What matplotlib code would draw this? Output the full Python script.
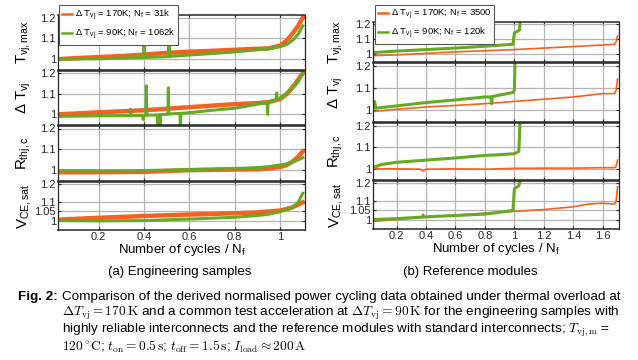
import matplotlib
matplotlib.use('Agg')
import matplotlib.pyplot as plt

plt.rcParams['font.family'] = ['Liberation Sans', 'DejaVu Sans']
plt.rcParams['mathtext.fontset'] = 'custom'
plt.rcParams['mathtext.rm'] = 'Liberation Sans'
plt.rcParams['mathtext.it'] = 'Liberation Sans:italic'
plt.rcParams['mathtext.bf'] = 'Liberation Sans:bold'

ORANGE = '#f4621f'
GREEN = '#66a925'

# ---- (a) engineering samples, x = cycles / Nf ----
eng_tmax_170_x = [0.02, 0.1, 0.2, 0.3, 0.4, 0.5, 0.6, 0.7, 0.8, 0.9, 0.95, 1.0, 1.03, 1.06, 1.08, 1.1]
eng_tmax_170_y = [1.0, 1.005, 1.01, 1.015, 1.022, 1.03, 1.036, 1.04, 1.045, 1.05, 1.052, 1.065, 1.09, 1.13, 1.16, 1.2]
eng_tmax_90_x = [0.02, 0.2, 0.398, 0.4, 0.402, 0.5, 0.508, 0.51, 0.512, 0.6, 0.7, 0.8, 0.9, 0.95, 1.0, 1.03, 1.06, 1.08, 1.1]
eng_tmax_90_y = [1.0, 1.002, 1.008, 1.085, 1.008, 1.012, 1.012, 1.095, 1.013, 1.02, 1.027, 1.035, 1.045, 1.05, 1.06, 1.07, 1.095, 1.12, 1.16]

eng_dt_170_x = [0.02, 0.2, 0.4, 0.6, 0.8, 0.9, 0.95, 1.0, 1.03, 1.06, 1.08, 1.1]
eng_dt_170_y = [1.0, 1.01, 1.02, 1.035, 1.05, 1.055, 1.06, 1.075, 1.1, 1.14, 1.17, 1.2]
eng_dt_90_x = [0.02, 0.2, 0.338, 0.34, 0.342, 0.394, 0.396, 0.398, 0.408, 0.41, 0.412, 0.458, 0.46, 0.462,
               0.468, 0.47, 0.472, 0.5, 0.505, 0.507, 0.509, 0.558, 0.56, 0.562, 0.6, 0.7, 0.8, 0.9,
               0.943, 0.945, 0.947, 0.983, 0.985, 0.987, 1.0, 1.05, 1.08, 1.1]
eng_dt_90_y = [0.99, 0.993, 0.994, 1.025, 0.994, 0.995, 0.975, 0.995, 0.996, 1.14, 0.996, 0.997, 0.95, 0.997,
               0.998, 0.95, 0.998, 1.0, 1.001, 1.13, 1.002, 1.005, 0.95, 1.005, 1.008, 1.02, 1.03, 1.05,
               1.058, 1.0, 1.06, 1.072, 1.105, 1.074, 1.08, 1.12, 1.16, 1.2]

eng_rth_170_x = [0.02, 0.2, 0.4, 0.6, 0.8, 0.9, 0.95, 1.0, 1.03, 1.06, 1.08, 1.1]
eng_rth_170_y = [0.99, 0.99, 0.992, 1.0, 1.003, 1.005, 1.008, 1.015, 1.025, 1.045, 1.065, 1.09]
eng_rth_90_x = [0.02, 0.2, 0.4, 0.6, 0.8, 0.9, 0.95, 1.0, 1.03, 1.06, 1.1]
eng_rth_90_y = [0.998, 0.997, 0.998, 1.003, 1.008, 1.012, 1.017, 1.025, 1.03, 1.04, 1.06]

eng_vce_170_x = [0.02, 0.2, 0.4, 0.6, 0.8, 0.9, 1.0, 1.05, 1.1]
eng_vce_170_y = [1.005, 1.015, 1.025, 1.033, 1.04, 1.045, 1.055, 1.07, 1.1]
eng_vce_90_x = [0.02, 0.2, 0.4, 0.6, 0.8, 0.9, 0.95, 1.0, 1.05, 1.08, 1.1]
eng_vce_90_y = [1.0, 0.998, 1.0, 1.008, 1.018, 1.028, 1.035, 1.048, 1.07, 1.1, 1.15]

# ---- (b) reference modules ----
ref_tmax_170_x = [0.04, 0.2, 0.4, 0.6, 0.8, 1.0, 1.2, 1.4, 1.6, 1.68, 1.69, 1.7]
ref_tmax_170_y = [0.99, 0.995, 1.005, 1.015, 1.022, 1.03, 1.04, 1.05, 1.06, 1.065, 1.08, 1.12]
ref_tmax_90_x = [0.04, 0.2, 0.4, 0.6, 0.8, 0.99, 1.0, 1.02, 1.035, 1.04]
ref_tmax_90_y = [1.01, 1.02, 1.03, 1.04, 1.052, 1.065, 1.14, 1.15, 1.16, 1.25]

ref_dt_170_x = [0.04, 0.2, 0.4, 0.6, 0.8, 1.0, 1.2, 1.4, 1.6, 1.68, 1.69, 1.7]
ref_dt_170_y = [0.995, 1.005, 1.015, 1.022, 1.03, 1.04, 1.05, 1.06, 1.075, 1.075, 1.09, 1.14]
ref_dt_90_x = [0.04, 0.05, 0.06, 0.2, 0.4, 0.6, 0.8, 0.84, 0.845, 0.85, 0.99, 1.0, 1.005]
ref_dt_90_y = [1.01, 1.04, 1.01, 1.02, 1.035, 1.047, 1.06, 1.06, 1.03, 1.062, 1.08, 1.09, 1.25]

ref_rth_170_x = [0.04, 0.2, 0.36, 0.38, 0.4, 0.6, 0.8, 1.0, 1.2, 1.4, 1.6, 1.68, 1.69, 1.7]
ref_rth_170_y = [1.0, 1.0, 0.998, 0.99, 0.998, 1.0, 0.998, 1.002, 1.003, 1.003, 1.005, 1.005, 1.01, 1.04]
ref_rth_90_x = [0.04, 0.1, 0.2, 0.4, 0.6, 0.8, 0.9, 1.0, 1.03, 1.04]
ref_rth_90_y = [1.005, 1.02, 1.03, 1.04, 1.05, 1.062, 1.065, 1.07, 1.08, 1.25]

ref_vce_170_x = [0.04, 0.2, 0.37, 0.38, 0.39, 0.6, 0.8, 1.0, 1.2, 1.4, 1.5, 1.6, 1.68, 1.69, 1.7]
ref_vce_170_y = [0.99, 1.0, 1.012, 1.03, 1.013, 1.025, 1.035, 1.045, 1.055, 1.07, 1.085, 1.09, 1.085, 1.1, 1.18]
ref_vce_90_x = [0.04, 0.2, 0.4, 0.6, 0.8, 0.9, 0.99, 1.0, 1.02, 1.03, 1.04]
ref_vce_90_y = [1.0, 1.005, 1.015, 1.022, 1.03, 1.04, 1.05, 1.17, 1.18, 1.185, 1.22]

ylabels = ['T$_{\\rm vj,max}$', '\u0394 T$_{\\rm vj}$', 'R$_{\\rm thj,c}$', 'V$_{\\rm CE,sat}$']
yticks = [[1, 1.1, 1.2], [1, 1.1, 1.2], [1, 1.1, 1.2], [1, 1.05, 1.1, 1.2]]
yticklabels = [['1', '1.1', '1.2'], ['1', '1.1', '1.2'], ['1', '1.1', '1.2'], ['1', '1.05', '1.1', '1.2']]

eng_xticks = [0.2, 0.4, 0.6, 0.8, 1.0]
eng_xticklabels = ['0.2', '0.4', '0.6', '0.8', '1']
ref_xticks = [0.2, 0.4, 0.6, 0.8, 1.0, 1.2, 1.4, 1.6]
ref_xticklabels = ['0.2', '0.4', '0.6', '0.8', '1', '1.2', '1.4', '1.6']

eng_labels = ['\u0394 T$_{\\rm vj}$ = 170K; N$_{\\rm f}$ = 31k', '\u0394 T$_{\\rm vj}$ = 90K; N$_{\\rm f}$ = 1062k']
ref_labels = ['\u0394 T$_{\\rm vj}$ = 170K; N$_{\\rm f}$ = 3500', '\u0394 T$_{\\rm vj}$ = 90K; N$_{\\rm f}$ = 120k']

W, H = 638, 360


def px_box(x0, x1, y0, y1):
    # pixel box (from top-left) -> figure fraction rect
    return [x0 / W, 1 - y1 / H, (x1 - x0) / W, (y1 - y0) / H]


def draw_column(fig, x0, x1, rows, series, xlim, xticks, xticklabels, lws, labels, leg_xy, label_x):
    axes = []
    for i, (y0, y1) in enumerate(rows):
        ax = fig.add_axes(px_box(x0, x1, y0, y1))
        (xo, yo), (xg, yg) = series[i]
        ax.plot(xo, yo, color=ORANGE, lw=lws[0], label=labels[0], solid_joinstyle='round')
        ax.plot(xg, yg, color=GREEN, lw=lws[1], label=labels[1], solid_joinstyle='round')
        ax.set_xlim(*xlim)
        ax.set_ylim(0.948, 1.212)
        ax.set_xticks(xticks)
        ax.set_yticks(yticks[i])
        ax.set_yticklabels(yticklabels[i])
        if i == len(rows) - 1:
            ax.set_xticklabels(xticklabels)
            ax.set_xlabel('Number of cycles / N$_{\\rm f}$', fontsize=9.5, labelpad=0)
        else:
            ax.set_xticklabels([])
        ax.grid(True, color='#b4b4b4', lw=0.9)
        ax.set_axisbelow(True)
        ax.tick_params(direction='in', top=True, right=True, length=2.5, width=0.8,
                       labelsize=8, pad=1.5, colors='#262626')
        for s in ax.spines.values():
            s.set_color('#262626')
            s.set_linewidth(0.9)
        ax.spines['top'].set_linewidth(1.1)
        ax.spines['bottom'].set_linewidth(1.1)
        ax.set_ylabel(ylabels[i], fontsize=10.8)
        ax.yaxis.set_label_coords(label_x, 0.5)
        axes.append(ax)
    leg = axes[0].legend(loc='upper left', bbox_to_anchor=(leg_xy[0] / W, 1 - leg_xy[1] / H),
                         bbox_transform=fig.transFigure, borderaxespad=0, fontsize=6.8,
                         fancybox=False, framealpha=1, edgecolor='#555555', handlelength=1.1,
                         handletextpad=0.25, borderpad=0.3, labelspacing=0.4)
    leg.get_frame().set_linewidth(0.8)
    for h in leg.get_lines():
        h.set_linewidth(1.8)
    leg.set_zorder(10)
    return axes


def main():
    fig = plt.figure(figsize=(W / 100, H / 100), dpi=100)

    eng_series = [
        ((eng_tmax_170_x, eng_tmax_170_y), (eng_tmax_90_x, eng_tmax_90_y)),
        ((eng_dt_170_x, eng_dt_170_y), (eng_dt_90_x, eng_dt_90_y)),
        ((eng_rth_170_x, eng_rth_170_y), (eng_rth_90_x, eng_rth_90_y)),
        ((eng_vce_170_x, eng_vce_170_y), (eng_vce_90_x, eng_vce_90_y)),
    ]
    ref_series = [
        ((ref_tmax_170_x, ref_tmax_170_y), (ref_tmax_90_x, ref_tmax_90_y)),
        ((ref_dt_170_x, ref_dt_170_y), (ref_dt_90_x, ref_dt_90_y)),
        ((ref_rth_170_x, ref_rth_170_y), (ref_rth_90_x, ref_rth_90_y)),
        ((ref_vce_170_x, ref_vce_170_y), (ref_vce_90_x, ref_vce_90_y)),
    ]

    draw_column(fig, 58, 305, [(15, 70), (71, 125), (126, 181), (182, 230)], eng_series,
                (0.02, 1.11), eng_xticks, eng_xticklabels, (3.2, 2.2), eng_labels, (59, 5), -0.10)
    draw_column(fig, 373, 619, [(22, 62), (63, 122), (123, 180), (181, 229)], ref_series,
                (0.04, 1.71), ref_xticks, ref_xticklabels, (1.2, 2.2), ref_labels, (375, 5), -0.115)

    fig.text(180 / W, 1 - 272 / H, '(a) Engineering samples', ha='center', va='center', fontsize=9.5)
    fig.text(470 / W, 1 - 272 / H, '(b) Reference modules', ha='center', va='center', fontsize=9.5)

    fs = 9.7
    fig.text(18 / W, 1 - 297 / H, 'Fig. 2:', fontweight='bold', va='center', fontsize=fs)
    lines = [
        'Comparison of the derived normalised power cycling data obtained under thermal overload at',
        '$\\Delta T_{\\rm vj} = 170\\,\\mathrm{K}$ and a common test acceleration at '
        '$\\Delta T_{\\rm vj} = 90\\,\\mathrm{K}$ for the engineering samples with',
        'highly reliable interconnects and the reference modules with standard interconnects; '
        '$T_{\\rm vj,m}$ =',
        '$120\\,^{\\circ}\\mathrm{C}$; $t_{\\rm on} = 0.5\\,\\mathrm{s}$; '
        '$t_{\\rm off} = 1.5\\,\\mathrm{s}$; $I_{\\rm load} \\approx 200\\,\\mathrm{A}$',
    ]
    for line, y in zip(lines, [297, 313.5, 330, 346.5]):
        fig.text(62 / W, 1 - y / H, line, va='center', fontsize=fs, math_fontfamily='cm')

    fig.savefig('out.png', dpi=100)
    plt.close(fig)


if __name__ == '__main__':
    main()
